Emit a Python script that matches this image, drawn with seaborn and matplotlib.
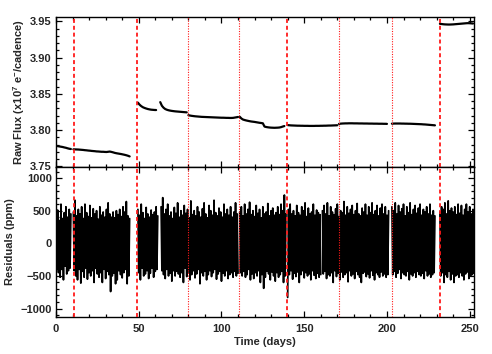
import numpy as np
import pandas as pd
import matplotlib
matplotlib.use("Agg")
import matplotlib.pyplot as plt
import seaborn as sns
from matplotlib.ticker import MultipleLocator, FormatStrFormatter

# ---------------- data ----------------
FLUX_CADENCE = 1.0   # days between listed flux values
RES_CADENCE = 0.5    # days between listed residual values

flux_starts = [0.0, 10.5, 49.5, 63.0, 80.0, 111.0, 140.0, 171.0, 203.0, 232.0]
flux_q0 = [3.7782, 3.7778, 3.7774, 3.7770, 3.7766, 3.7760, 3.7755, 3.7748, 3.7742, 3.7738]
flux_q1 = [3.7734, 3.7733, 3.7732, 3.7731, 3.7729, 3.7727, 3.7725, 3.7722, 3.7720, 3.7717,
           3.7715, 3.7712, 3.7710, 3.7708, 3.7705, 3.7704, 3.7702, 3.7700, 3.7700, 3.7698,
           3.7697, 3.7700, 3.7703, 3.7698, 3.7692, 3.7685, 3.7680, 3.7676, 3.7672, 3.7668,
           3.7663, 3.7658, 3.7652, 3.7645, 3.7636]
flux_q2a = [3.8378, 3.8350, 3.8330, 3.8315, 3.8305, 3.8297, 3.8290, 3.8285, 3.8281, 3.8279,
            3.8277, 3.8276]
flux_q2b = [3.8385, 3.8335, 3.8308, 3.8290, 3.8280, 3.8273, 3.8268, 3.8264, 3.8261, 3.8258,
            3.8256, 3.8254, 3.8252, 3.8250, 3.8248, 3.8246, 3.8244]
flux_q2c = [3.8205, 3.8200, 3.8196, 3.8193, 3.8190, 3.8188, 3.8186, 3.8184, 3.8182, 3.8181,
            3.8180, 3.8179, 3.8178, 3.8177, 3.8176, 3.8175, 3.8174, 3.8173, 3.8172, 3.8171,
            3.8170, 3.8170, 3.8169, 3.8168, 3.8168, 3.8167, 3.8167, 3.8168, 3.8172, 3.8176,
            3.8180]
flux_q3 = [3.8184, 3.8160, 3.8145, 3.8138, 3.8132, 3.8127, 3.8122, 3.8118, 3.8115, 3.8112,
           3.8108, 3.8104, 3.8100, 3.8097, 3.8093, 3.8048, 3.8042, 3.8038, 3.8035, 3.8033,
           3.8032, 3.8031, 3.8032, 3.8033, 3.8035, 3.8040, 3.8048, 3.8055]
flux_q4a = [3.8068, 3.8066, 3.8064, 3.8063, 3.8062, 3.8061, 3.8060, 3.8060, 3.8059, 3.8059,
            3.8058, 3.8058, 3.8058, 3.8057, 3.8057, 3.8057, 3.8057, 3.8058, 3.8058, 3.8058,
            3.8059, 3.8059, 3.8060, 3.8060, 3.8061, 3.8062, 3.8062, 3.8063, 3.8064, 3.8065,
            3.8066]
flux_q4b = [3.8085, 3.8088, 3.8090, 3.8091, 3.8092, 3.8092, 3.8093, 3.8093, 3.8093, 3.8092,
            3.8092, 3.8092, 3.8091, 3.8091, 3.8091, 3.8090, 3.8090, 3.8090, 3.8089, 3.8089,
            3.8089, 3.8088, 3.8088, 3.8088, 3.8087, 3.8087, 3.8087, 3.8086, 3.8086, 3.8085]
flux_q4c = [3.8088, 3.8089, 3.8090, 3.8090, 3.8090, 3.8090, 3.8089, 3.8089, 3.8088, 3.8088,
            3.8087, 3.8087, 3.8086, 3.8085, 3.8084, 3.8083, 3.8082, 3.8081, 3.8080, 3.8078,
            3.8077, 3.8075, 3.8073, 3.8071, 3.8069, 3.8067, 3.8065]
flux_q5 = [3.9466, 3.9463, 3.9460, 3.9458, 3.9457, 3.9456, 3.9456, 3.9457, 3.9458, 3.9460,
           3.9462, 3.9464, 3.9466, 3.9468, 3.9470, 3.9472, 3.9474, 3.9475, 3.9474, 3.9472,
           3.9470]
flux_segments = [flux_q0, flux_q1, flux_q2a, flux_q2b, flux_q2c, flux_q3,
                 flux_q4a, flux_q4b, flux_q4c, flux_q5]

res_starts = [0.0, 10.5, 49.5, 63.5, 111.0, 140.0, 161.0, 203.0, 232.0]
res_q0 = [420, -380, 510, -450, 350, -520, 600, -400, 380, -560, 470, -350, 560, -470, 400,
          -420, 520, -380, 450]
res_q1 = [480, -420, 660, -500, 420, -560, 520, -400, 450, -610, 560, -430, 380, -520, 600,
          -380, 470, -550, 410, -450, 580, -500, 390, -420, 530, -600, 450, -380, 500, -470,
          370, -520, 560, -450, 430, -600, 480, -400, 400, -540, 520, -430, 620, -480, 450,
          -740, 400, -500, 480, -460, 390, -620, 500, -560, 440, -420, 520, -480, 410, -530,
          560, -450, 480, -400, 640, -620, 420, -500, 380]
res_q2a = [520, -450, 430, -560, 600, -380, 470, -500, 380, -470, 550, -420, 450, -540, 400,
           -460, 510, -380, 440, -520, 480, -430, 560, -400, 420]
res_q2b = [560, -420, 700, -480, 450, -540, 520, -400, 600, -500, 420, -460, 480, -580, 380,
           -420, 550, -500, 460, -430, 620, -470, 400, -520, 500, -450, 430, -600, 580, -380,
           460, -510, 520, -440, 390, -560, 650, -480, 440, -420, 500, -530, 420, -470, 560,
           -400, 480, -620, 400, -450, 530, -500, 620, -430, 450, -560, 390, -480, 580, -420,
           500, -510, 430, -450, 660, -400, 470, -550, 420, -470, 540, -430, 480, -580, 400,
           -460, 600, -500, 450, -420, 520, -540, 430, -480, 560, -450, 400, -520, 480, -430,
           620, -500, 450, -460]
res_q3 = [480, -450, 560, -500, 420, -430, 600, -520, 450, -480, 520, -400, 630, -560, 440,
          -470, 500, -540, 410, -450, 580, -500, 460, -420, 520, -600, 390, -480, 560, -690,
          450, -520, 480, -430, 610, -470, 420, -560, 500, -440, 540, -500, 430, -580, 470,
          -450, 560, -520, 440, -480, 600, -430, 500, -600, 740, -500, 450]
res_q4a = [-830, 520, -480, 600, -420, 450, -550, 500, -460, 420, -510, 580, -440, 470, -600,
           430, -480, 560, -420, 500, -530, 620, -450, 410, -500, 540, -470, 450, -560, 480,
           -420, 600, -490, 430, -540, 510, -460, 470, -520, 440, -480]
res_q4b = [500, -470, 580, -430, 450, -540, 620, -480, 420, -500, 560, -450, 480, -600, 440,
           -420, 530, -510, 600, -460, 410, -560, 500, -440, 470, -520, 640, -480, 430, -450,
           560, -590, 460, -420, 520, -500, 580, -470, 440, -540, 500, -430, 610, -480, 450,
           -520, 420, -600, 540, -460, 480, -440, 600, -510, 430, -470, 560, -530, 470, -420,
           620, -490, 440, -560, 500, -450, 580, -480, 420, -520, 540, -440, 600, -500, 450,
           -470, 560, -520, 430, -480, 500]
res_q4c = [560, -480, 500, -430, 620, -520, 450, -460, 580, -400, 480, -540, 530, -450, 600,
           -480, 420, -500, 560, -430, 470, -560, 620, -470, 440, -500, 520, -450, 580, -520,
           460, -430, 540, -480, 600, -500, 430, -460, 520, -540, 480, -420, 560, -500, 450,
           -470, 600, -520, 430, -480, 500, -450, 420]
res_q5 = [480, -500, 560, -450, 520, -600, 620, -480, 450, -520, 650, -430, 500, -560, 540,
          -470, 480, -600, 560, -500, 440, -480, 600, -520, 460, -450, 580, -500, 430, -560,
          520, -470, 600, -440, 480, -540, 560, -500, 450, -480, 520, -460]
res_segments = [res_q0, res_q1, res_q2a, res_q2b, res_q3, res_q4a, res_q4b, res_q4c, res_q5]

quarter_breaks = [10.9, 49.1, 139.8, 232.0]      # dashed
monthly_breaks = [79.9, 110.8, 171.0, 203.2]     # dotted

x_ticks = [0, 50, 100, 150, 200, 250]
flux_ticks = [3.75, 3.80, 3.85, 3.90, 3.95]
res_ticks = [-1000, -500, 0, 500, 1000]


def to_frame(starts, segments, cadence):
    rows = []
    for k, (s, vals) in enumerate(zip(starts, segments)):
        for i, v in enumerate(vals):
            rows.append({"seg": k, "t": s + i * cadence, "v": v})
    return pd.DataFrame(rows)


flux_df = to_frame(flux_starts, flux_segments, FLUX_CADENCE)
res_df = to_frame(res_starts, res_segments, RES_CADENCE)

# ---------------- style ----------------
sns.set_style("ticks")
plt.rcParams["font.family"] = ["Liberation Sans", "DejaVu Sans"]
plt.rcParams["font.weight"] = "bold"
plt.rcParams["mathtext.fontset"] = "custom"
plt.rcParams["mathtext.bf"] = "Liberation Sans:bold"
plt.rcParams["mathtext.rm"] = "Liberation Sans:bold"
plt.rcParams["mathtext.default"] = "bf"
plt.rcParams["axes.linewidth"] = 1.0
plt.rcParams["axes.edgecolor"] = "black"

W, H = 492, 354
fig = plt.figure(figsize=(W / 100, H / 100), dpi=100)
left, right = 56, 474
ax1 = fig.add_axes([left / W, 1 - 167 / H, (right - left) / W, 150 / H])
ax2 = fig.add_axes([left / W, 1 - 317 / H, (right - left) / W, 150 / H], sharex=ax1)

sns.lineplot(data=flux_df, x="t", y="v", units="seg", estimator=None, color="black",
             linewidth=1.6, ax=ax1, legend=False)
sns.lineplot(data=res_df, x="t", y="v", units="seg", estimator=None, color="black",
             linewidth=1.25, ax=ax2, legend=False)

for ax in (ax1, ax2):
    for xb in quarter_breaks:
        ax.axvline(xb, color="#ff1a1a", linewidth=1.3, dashes=(2.2, 1.6), zorder=3)
    for xb in monthly_breaks:
        ax.axvline(xb, color="#ff1a1a", linewidth=0.8, linestyle=(0, (1, 1.3)), zorder=3)
    ax.set_xlim(0, 252.6)
    ax.xaxis.set_major_locator(MultipleLocator(50))
    ax.xaxis.set_minor_locator(MultipleLocator(10))
    ax.tick_params(which="both", direction="in", top=True, right=True,
                   labelsize=8, width=0.9, color="black", pad=3)
    ax.tick_params(which="major", length=4.5)
    ax.tick_params(which="minor", length=2.3)
    for sp in ax.spines.values():
        sp.set_visible(True)
        sp.set_color("black")

ax1.set_ylim(3.749, 3.956)
ax1.set_yticks(flux_ticks)
ax1.yaxis.set_minor_locator(MultipleLocator(0.01))
ax1.yaxis.set_major_formatter(FormatStrFormatter("%.2f"))
ax1.tick_params(labelbottom=False)
ax1.set_xlabel("")
ax1.set_ylabel(r"Raw Flux (x10$^{7}$ e$^{-}$/cadence)", fontsize=8, fontweight="bold")
ax1.yaxis.set_label_coords((27 - left) / (right - left), 0.5)

ax2.set_ylim(-1130, 1170)
ax2.set_yticks(res_ticks)
ax2.yaxis.set_minor_locator(MultipleLocator(100))
ax2.set_xticks(x_ticks)
ax2.tick_params(axis="x", pad=5)
ax2.set_ylabel("Residuals (ppm)", fontsize=8, fontweight="bold")
ax2.yaxis.set_label_coords((15 - left) / (right - left), 0.5)
ax2.set_xlabel("Time (days)", fontsize=8, fontweight="bold", labelpad=2)

for ax in (ax1, ax2):
    for lab in ax.get_xticklabels() + ax.get_yticklabels():
        lab.set_fontweight("bold")

fig.savefig("out.png", dpi=100)
